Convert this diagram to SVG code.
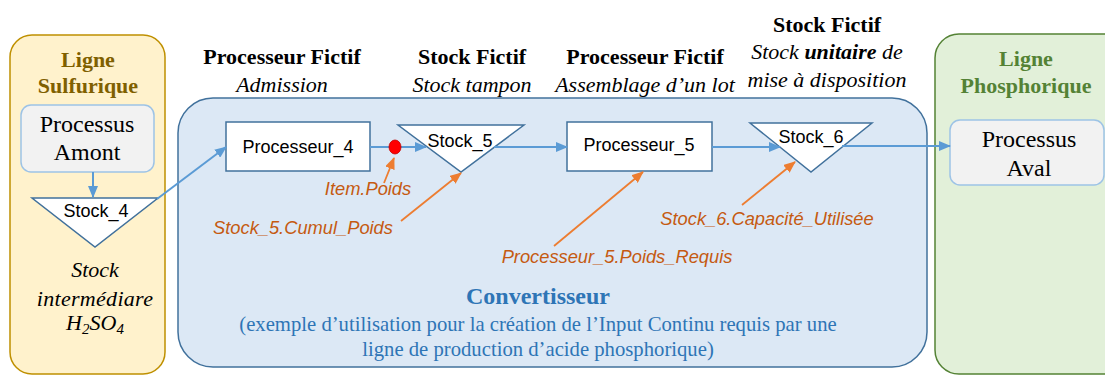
<svg xmlns="http://www.w3.org/2000/svg" width="1105" height="376" viewBox="0 0 1105 376">
<style>
.serif{font-family:"Liberation Serif","Times New Roman",serif;}
.sans{font-family:"Liberation Sans",Arial,sans-serif;}
.hb{font-family:"Liberation Serif",serif;font-weight:bold;font-size:22px;fill:#000;text-anchor:middle;}
.hi{font-family:"Liberation Serif",serif;font-style:italic;font-size:22px;fill:#000;text-anchor:middle;}
.node{fill:#fff;stroke:#41719c;stroke-width:1.5;}
.lbl{font-family:"Liberation Sans",Arial,sans-serif;font-size:18px;fill:#000;text-anchor:middle;}
.proc{fill:#f2f2f2;stroke:#9dc3e6;stroke-width:1.5;}
.pt{font-family:"Liberation Serif",serif;font-size:24px;fill:#000;text-anchor:middle;}
.or{font-family:"Liberation Sans",Arial,sans-serif;font-style:italic;font-size:18.3px;fill:#c55a11;text-anchor:middle;}
.blue{stroke:#5b9bd5;stroke-width:2;fill:none;marker-end:url(#ab);}
.orange{stroke:#ed7d31;stroke-width:1.8;fill:none;marker-end:url(#ao);}
</style>
<defs>
<marker id="ab" markerUnits="userSpaceOnUse" markerWidth="12" markerHeight="10" refX="11" refY="5" orient="auto">
<path d="M0,0 L12,5 L0,10 z" fill="#5b9bd5"/>
</marker>
<marker id="ao" markerUnits="userSpaceOnUse" markerWidth="12" markerHeight="10" refX="11" refY="5" orient="auto">
<path d="M0,0 L12,5 L0,10 z" fill="#ed7d31"/>
</marker>
</defs>
<rect width="1105" height="376" fill="#fff"/>

<g id="ligne-sulfurique">
<rect x="10" y="35" width="155" height="339" rx="22" fill="#fff2cc" stroke="#bf9000" stroke-width="1.5"/>
<text x="88" y="67" class="serif" font-weight="bold" font-size="22" fill="#7f6000" text-anchor="middle">Ligne</text>
<text x="88" y="93" class="serif" font-weight="bold" font-size="22" fill="#7f6000" text-anchor="middle">Sulfurique</text>
<text x="95" y="277" class="hi">Stock</text>
<text x="95" y="306" class="hi" letter-spacing="0.3">intermédiare</text>
<text x="95" y="330" class="hi">H<tspan font-size="15" dy="4">2</tspan><tspan dy="-4">SO</tspan><tspan font-size="15" dy="4">4</tspan></text>
</g>

<g id="ligne-phosphorique">
<rect x="935" y="34" width="200" height="340" rx="24" fill="#e2f0d9" stroke="#548235" stroke-width="1.5"/>
<text x="1026" y="66" class="serif" font-weight="bold" font-size="22" fill="#548235" text-anchor="middle">Ligne</text>
<text x="1026" y="93" class="serif" font-weight="bold" font-size="22" fill="#548235" text-anchor="middle">Phosphorique</text>
</g>

<g id="convertisseur">
<rect x="178" y="98" width="749" height="269" rx="35" fill="#dce8f5" stroke="#41719c" stroke-width="1.5"/>
<text x="538" y="304" class="serif" font-weight="bold" font-size="24" fill="#2e75b6" text-anchor="middle">Convertisseur</text>
<text x="538" y="331" class="serif" font-size="20.7" fill="#2e75b6" text-anchor="middle">(exemple d’utilisation pour la création de l’Input Continu requis par une</text>
<text x="538" y="356" class="serif" font-size="20.7" fill="#2e75b6" text-anchor="middle">ligne de production d’acide phosphorique)</text>
</g>

<g id="headers">
<text x="282" y="64" class="hb">Processeur  Fictif</text>
<text x="282" y="92" class="hi">Admission</text>
<text x="472" y="64" class="hb">Stock Fictif</text>
<text x="472" y="92" class="hi">Stock tampon</text>
<text x="645" y="64" class="hb">Processeur  Fictif</text>
<text x="645" y="92" class="hi">Assemblage d’un lot</text>
<text x="827" y="32" class="hb">Stock Fictif</text>
<text x="827" y="59" class="hi">Stock <tspan font-weight="bold">unitaire</tspan> de</text>
<text x="827" y="87" class="hi">mise à disposition</text>
</g>

<g id="processus-amont">
<rect x="21" y="105" width="133" height="67" rx="10" class="proc"/>
<text x="87" y="132" class="pt">Processus</text>
<text x="87" y="160" class="pt">Amont</text>
</g>

<g id="stock-4">
<polygon points="32,198 158,198 95,247" class="node"/>
<text x="96" y="217" class="lbl">Stock_4</text>
</g>

<g id="processeur-4">
<rect x="226" y="122" width="144" height="49" class="node"/>
<text x="298" y="153" class="lbl">Processeur_4</text>
</g>

<g id="stock-5">
<polygon points="398,125 524,125 461,172" class="node"/>
<text x="460" y="147" class="lbl">Stock_5</text>
</g>

<g id="processeur-5">
<rect x="567" y="122" width="145" height="49" class="node"/>
<text x="639" y="151" class="lbl">Processeur_5</text>
</g>

<g id="stock-6">
<polygon points="750,123 872,123 811,172" class="node"/>
<text x="811" y="143" class="lbl">Stock_6</text>
</g>

<g id="processus-aval">
<rect x="950" y="120" width="154" height="65" rx="10" class="proc"/>
<text x="1029" y="147" class="pt">Processus</text>
<text x="1029" y="176" class="pt">Aval</text>
</g>

<g id="connectors">
<line x1="93" y1="172" x2="93" y2="197" class="blue"/>
<line x1="157" y1="199" x2="226" y2="147" class="blue"/>
<line x1="370" y1="147" x2="426" y2="147" class="blue"/>
<line x1="494" y1="147" x2="567" y2="147" class="blue"/>
<line x1="712" y1="147" x2="780" y2="147" class="blue"/>
<line x1="842" y1="146" x2="950" y2="146" class="blue"/>
<line x1="384" y1="183" x2="394" y2="158" class="orange"/>
<line x1="401" y1="221" x2="461" y2="173" class="orange"/>
<line x1="554" y1="246" x2="643" y2="172" class="orange"/>
<line x1="742" y1="205" x2="795" y2="162" class="orange"/>
</g>

<g id="item-dot">
<ellipse cx="395" cy="147" rx="6" ry="7" fill="#ff0000" stroke="#c00000" stroke-width="0.8"/>
</g>

<g id="labels">
<text x="368" y="195" class="or">Item.Poids</text>
<text x="303" y="234" class="or">Stock_5.Cumul_Poids</text>
<text x="617" y="263" class="or">Processeur_5.Poids_Requis</text>
<text x="767" y="225" class="or">Stock_6.Capacité_Utilisée</text>
</g>
</svg>
